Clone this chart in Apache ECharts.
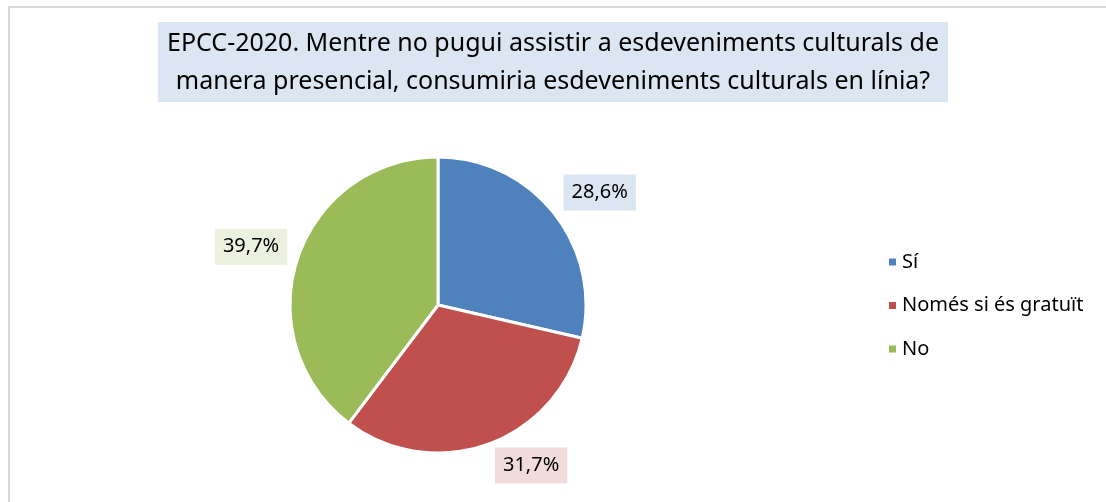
<!DOCTYPE html>
<html>
<head>
<meta charset="utf-8">
<script src="https://cdn.jsdelivr.net/npm/echarts@6/dist/echarts.min.js"></script>
<style>
  html, body { margin: 0; padding: 0; background: #fff; }
  #frame { position: absolute; left: 8px; top: 6px; width: 1098px; height: 496px;
           border-left: 2px solid #d9d9d9; border-top: 2px solid #d9d9d9; }
  #chart { width: 1106px; height: 502px; position: absolute; left: 0; top: 0; }
</style>
</head>
<body>
<div id="frame"></div>
<div id="chart"></div>
<script>
const categories = ['Sí', 'Només si és gratuït', 'No'];
const values = [28.6, 31.7, 39.7];
const colors = ['#4f81bd', '#c0504d', '#9bbb59'];
const labelBg = ['#dce6f2', '#f2dcdb', '#ebf1de'];
// small nudges so the value boxes sit where Excel put them
const labelShift = [[-7, -14], [-6, 12], [8, -8]];

const chart = echarts.init(document.getElementById('chart'));
const font = '"Noto Sans", sans-serif';

chart.setOption({
  animation: false,
  title: {
    text: 'EPCC-2020. Mentre no pugui assistir a esdeveniments culturals de\nmanera presencial, consumiria esdeveniments culturals en línia?',
    left: 'center',
    top: 22,
    backgroundColor: '#dce6f2',
    padding: [3, 9, 1, 9],
    textStyle: {
      fontFamily: font, fontSize: 25, fontWeight: 'normal', color: '#000',
      lineHeight: 38, align: 'center'
    }
  },
  legend: {
    orient: 'vertical',
    left: 882,
    top: 247,
    itemWidth: 9,
    itemHeight: 9,
    itemGap: 23.5,
    icon: 'rect',
    textStyle: { fontFamily: font, fontSize: 20, color: '#000' },
    data: categories
  },
  series: [{
    type: 'pie',
    center: [438, 305],
    radius: 148,
    startAngle: 90,
    clockwise: true,
    itemStyle: { borderColor: '#fff', borderWidth: 3 },
    label: {
      show: true,
      position: 'outside',
      formatter: p => p.value.toFixed(1).replace('.', ',') + '%',
      fontFamily: font,
      fontSize: 20,
      color: '#000',
      padding: [9, 8, 7, 8]
    },
    labelLine: { show: false, length: 10, length2: 4 },
    data: categories.map((c, i) => ({
      name: c,
      value: values[i],
      itemStyle: { color: colors[i] },
      label: { backgroundColor: labelBg[i], offset: labelShift[i] }
    }))
  }]
});
</script>
</body>
</html>
